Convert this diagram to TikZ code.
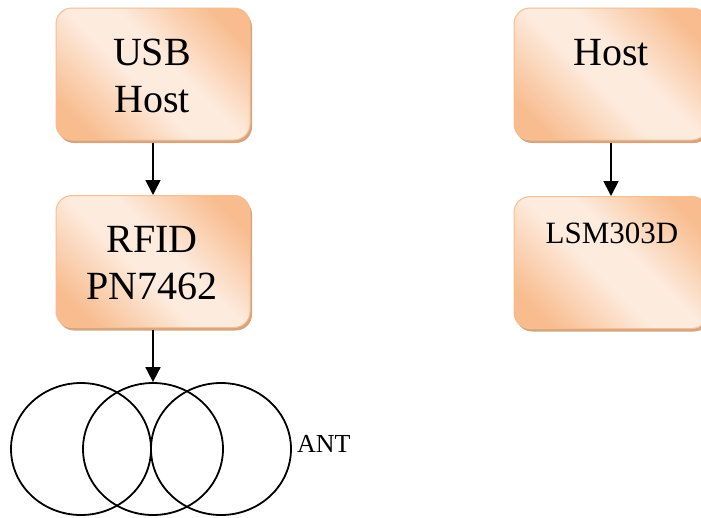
\documentclass[tikz,border=0pt]{standalone}
\usepackage{fontspec}
\setmainfont{Liberation Serif}
\usetikzlibrary{shapes.geometric,shadows,arrows.meta}
\definecolor{pkd}{RGB}{248,188,142}
\definecolor{pkl}{RGB}{253,235,222}
\definecolor{pkb}{RGB}{247,190,145}
\definecolor{shc}{RGB}{214,164,126}
\pgfdeclarehorizontalshading{peachshade}{100bp}{color(0bp)=(pkd); color(23bp)=(pkd); color(45bp)=(pkl); color(56bp)=(pkl); color(77bp)=(pkd); color(100bp)=(pkd)}
\tikzset{
  pbox/.style={draw=pkb, line width=1pt, rounded corners=16pt, shading=peachshade, shading angle=45,
    minimum width=194pt, minimum height=132pt, inner sep=0pt,
    drop shadow={shadow xshift=2pt, shadow yshift=-3pt, fill=shc, opacity=1}},
  bigtxt/.style={font=\fontsize{40}{47}\selectfont, align=center, inner sep=0pt},
  midtxt/.style={font=\fontsize{31}{36}\selectfont, inner sep=0pt},
  smalltxt/.style={font=\fontsize{26}{30}\selectfont, inner sep=0pt},
  conn/.style={line width=1.8pt, -{Triangle[length=15pt,width=15pt]}},
  ring/.style={draw, ellipse, line width=1.8pt, minimum width=140pt, minimum height=132pt, inner sep=0pt}
}
\begin{document}
\begin{tikzpicture}[x=1pt,y=-1pt]
\useasboundingbox (0,0) rectangle (701,517);
\node[pbox] (usb) at (153,74) {};
\node[pbox] (rfid) at (153,261.5) {};
\node[pbox] (host) at (611,74) {};
\node[pbox] (lsm) at (611,262.5) {};
\node[bigtxt, anchor=north] (usbt) at (152,38.5) {USB\\Host};
\node[bigtxt, anchor=north] (rfidt) at (152,226.5) {RFID\\PN7462};
\node[bigtxt, anchor=north] (hostt) at (611,39.5) {Host};
\node[midtxt, anchor=base] (lsmt) at (612,243) {LSM303D};
\node[ring] (c1) at (81,449) {};
\node[ring] (c2) at (153,449) {};
\node[ring] (c3) at (221,449) {};
\node[smalltxt, anchor=base west] (ant) at (297,452) {ANT};
\draw[conn] ([yshift=-2pt]usb.south) -- (rfid.north);
\draw[conn] ([yshift=-2pt]host.south) -- (lsm.north);
\draw[conn] ([yshift=-2pt]rfid.south) -- (c2.north);
\end{tikzpicture}
\end{document}
